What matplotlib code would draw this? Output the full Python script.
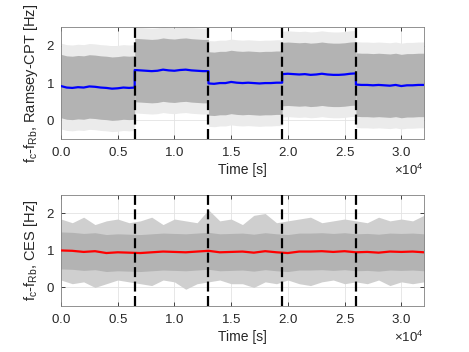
import numpy as np
import matplotlib
matplotlib.use("Agg")
import matplotlib.pyplot as plt

plt.rcParams['font.family'] = ['Liberation Sans', 'DejaVu Sans']
plt.rcParams['mathtext.fontset'] = 'custom'
plt.rcParams['mathtext.rm'] = 'Liberation Sans'
plt.rcParams['mathtext.it'] = 'Liberation Sans'

# ---------- dados ----------
limites = [0, 6500, 13000, 19500, 26000, 32000]
trocas = [6500, 13000, 19500, 26000]

# media movel Ramsey-CPT, um vetor por segmento (passo de 500 s)
seg1 = [0.92, 0.88, 0.87, 0.89, 0.88, 0.91, 0.90, 0.88, 0.87, 0.85, 0.86, 0.88, 0.87, 0.88]
seg2 = [1.35, 1.34, 1.33, 1.32, 1.33, 1.36, 1.34, 1.33, 1.35, 1.36, 1.34, 1.33, 1.32, 1.32]
seg3 = [0.99, 0.98, 1.00, 1.00, 1.03, 1.01, 1.00, 1.01, 1.00, 0.99, 1.00, 1.00, 1.01, 1.01]
seg4 = [1.24, 1.25, 1.24, 1.23, 1.24, 1.22, 1.23, 1.25, 1.23, 1.22, 1.22, 1.23, 1.25, 1.26]
seg5 = [0.96, 0.95, 0.95, 0.94, 0.95, 0.94, 0.93, 0.95, 0.92, 0.94, 0.94, 0.95, 0.95]
segs_ramsey = [seg1, seg2, seg3, seg4, seg5]

# nuvem de pontos Ramsey-CPT: meia largura da faixa densa e dos pontos esparsos
meia_densa = 0.85
meia_esparsa = 1.15

# media movel CES (passo de 1000 s)
t_ces = list(range(0, 33000, 1000))
ces_media = [1.00, 0.99, 0.96, 0.98, 0.93, 0.95, 0.94, 0.93, 0.95, 0.97, 0.96, 0.95,
             0.97, 0.99, 0.95, 0.96, 0.97, 0.94, 0.98, 0.95, 0.93, 0.97, 0.97, 0.98,
             0.96, 0.98, 0.95, 0.96, 0.94, 0.97, 0.96, 0.97, 0.95]
ces_pico_sup = [1.85, 1.75, 1.90, 1.70, 1.80, 1.85, 1.75, 1.80, 1.90, 1.70, 1.85, 1.80,
                1.75, 2.10, 1.80, 1.85, 1.70, 1.95, 2.00, 1.75, 1.80, 1.85, 1.90, 1.75,
                1.80, 1.85, 1.80, 1.75, 1.90, 1.80, 1.85, 1.80, 1.95]
ces_pico_inf = [0.20, 0.10, 0.15, 0.00, 0.10, 0.20, 0.15, 0.10, 0.05, 0.20, 0.15, -0.05,
                0.10, 0.15, 0.20, 0.10, 0.10, 0.00, 0.15, 0.10, 0.20, 0.10, 0.05, 0.15,
                0.20, 0.10, 0.15, 0.10, 0.20, 0.05, 0.15, 0.10, 0.15]
ces_densa = 0.5

cinza = '#b3b3b3'
cinza_claro = '#ebebeb'
cinza_pico = '#cfcfcf'


def estilo(ax, ylabel):
    ax.set_xlim(0, 32000)
    ax.set_ylim(-0.5, 2.5)
    ax.set_yticks([0, 1, 2])
    ax.set_xticks(np.arange(0, 30001, 5000))
    ax.ticklabel_format(axis='x', style='sci', scilimits=(4, 4), useMathText=True)
    ax.grid(True, color='#e3e3e3', linewidth=0.6)
    ax.set_axisbelow(True)
    ax.tick_params(direction='in', length=3, width=0.6, colors='#262626', pad=5,
                   labelsize=9.5, top=True, right=True, labeltop=False, labelright=False)
    for s in ax.spines.values():
        s.set_color('#808080')
        s.set_linewidth(0.6)
    ax.set_xlabel('Time [s]', fontsize=10, color='#262626', labelpad=3)
    ax.set_ylabel(ylabel, fontsize=10.5, color='#262626', labelpad=5)
    ax.xaxis.get_offset_text().set_fontsize(9.5)
    ax.xaxis.get_offset_text().set_color('#262626')
    for x in trocas:
        ax.axvline(x, color='black', linewidth=1.6, linestyle=(0, (4.5, 2)), zorder=5)


fig = plt.figure(figsize=(4.69, 3.52), dpi=100)
ax1 = fig.add_axes([0.130, 0.605, 0.774, 0.318])
ax2 = fig.add_axes([0.130, 0.131, 0.774, 0.315])

# ---------- Ramsey-CPT ----------
t_all, y_all = [], []
for i, seg in enumerate(segs_ramsey):
    t = np.linspace(limites[i], limites[i + 1], len(seg))
    y = np.array(seg)
    ax1.fill_between(t, y - meia_esparsa, y + meia_esparsa, color=cinza_claro, lw=0, zorder=1)
    ax1.fill_between(t, y - meia_densa, y + meia_densa, color=cinza, lw=0, zorder=2)
    t_all.extend(t)
    y_all.extend(y)
ax1.plot(t_all, y_all, color='#0000ff', linewidth=1.6, zorder=4)
estilo(ax1, 'f$_c$-f$_{Rb}$, Ramsey-CPT [Hz]')

# ---------- CES ----------
m = np.array(ces_media)
ax2.fill_between(t_ces, ces_pico_inf, ces_pico_sup, color=cinza_pico, lw=0, zorder=1)
ax2.fill_between(t_ces, m - ces_densa, m + ces_densa, color=cinza, lw=0, zorder=2)
ax2.plot(t_ces, ces_media, color='#ff0000', linewidth=1.6, zorder=4)
estilo(ax2, 'f$_c$-f$_{Rb}$, CES [Hz]')

fig.savefig('out.png', dpi=100)
